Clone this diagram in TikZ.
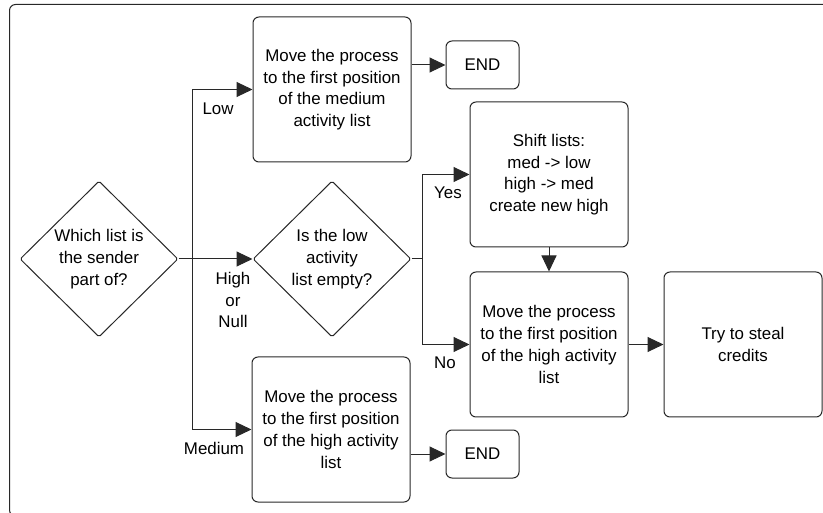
\documentclass[tikz,border=0pt]{standalone}
\usepackage{fontspec}
\setmainfont{Liberation Sans}
\usetikzlibrary{arrows.meta,shapes.geometric}
\newcommand\txtfont{\fontsize{16.9pt}{21.7pt}\selectfont}
\definecolor{linec}{RGB}{40,40,40}
\begin{document}
\begin{tikzpicture}[x=1pt,y=-1pt,
  box/.style={draw=linec, line width=1pt, rounded corners=6pt, align=center, inner sep=0pt, font=\txtfont},
  dia/.style={draw=linec, line width=1pt, shape=diamond, inner sep=0pt, rounded corners=1.5pt},
  txt/.style={align=center, inner sep=0pt, font=\txtfont},
  lab/.style={align=center, inner sep=0pt, font=\txtfont},
  conn/.style={draw=linec, line width=1pt},
  arr/.style={conn, -{Triangle[length=16pt,width=15pt]}}]
\useasboundingbox (0,0) rectangle (823,513);
\begin{scope}
\clip (0,0) rectangle (823,513);
\draw[linec, line width=1pt, rounded corners=6pt] (9.5,4.5) rectangle (840,516);
\end{scope}

% nodes
\node[box, minimum width=158pt, minimum height=145pt] (m1) at (332,89.5) {Move the process\\to the first position\\of the medium\\activity list};
\node[box, minimum width=73pt, minimum height=48pt] (e1) at (482.5,65) {END};
\node[box, minimum width=158pt, minimum height=145pt] (sh) at (549,174.5) {Shift lists:\\med -> low\\high -> med\\create new high};
\node[dia, minimum width=158pt, minimum height=156pt] (d1) at (99,259) {};
\node[txt] (d1t) at (d1.center) {Which list is\\the sender\\part of?};
\node[dia, minimum width=158pt, minimum height=156pt] (d2) at (332,259) {};
\node[txt] (d2t) at (d2.center) {Is the low\\activity\\list empty?};
\node[box, minimum width=158pt, minimum height=145pt] (hi) at (549,344.5) {Move the process\\to the first position\\of the high activity\\list};
\node[box, minimum width=158pt, minimum height=145pt] (tr) at (743,344.5) {Try to steal\\credits};
\node[box, minimum width=158pt, minimum height=145pt] (m3) at (331,429.5) {Move the process\\to the first position\\of the high activity\\list};
\node[box, minimum width=73pt, minimum height=48pt] (e2) at (482.5,454) {END};

% junctions
\coordinate (j1) at (192,259);
\coordinate (j2) at (422,259);

% connectors
\draw[arr] (d1.east) -- (d2.west);
\draw[arr] (j1) |- (m1.west);
\draw[arr] (j1) |- (m3.west);
\draw[arr] (m1.east |- e1.west) -- (e1.west);
\draw[arr] (m3.east |- e2.west) -- (e2.west);
\draw[conn] (d2.east) -- (j2);
\draw[arr] (j2) |- (sh.west);
\draw[arr] (j2) |- (hi.west);
\draw[arr] (sh.south) -- (hi.north);
\draw[arr] (hi.east) -- (tr.west);

% labels
\node[lab] (lLow) at (218,109) {Low};
\node[lab] (lHigh) at (233,300) {High\\or\\Null};
\node[lab] (lMed) at (214,448) {Medium};
\node[lab] (lYes) at (448,193) {Yes};
\node[lab] (lNo) at (445,363) {No};
\end{tikzpicture}
\end{document}
